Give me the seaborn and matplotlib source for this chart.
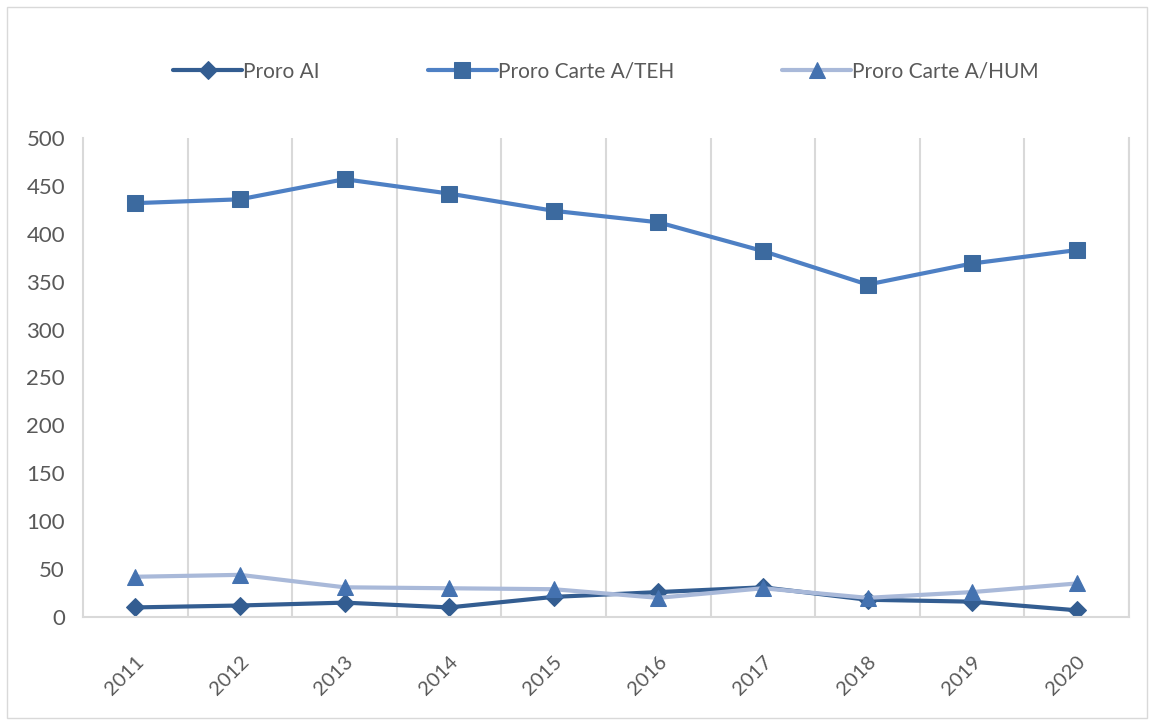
import numpy as np
import pandas as pd
import matplotlib
matplotlib.use("Agg")
import matplotlib.pyplot as plt
import seaborn as sns
from matplotlib.patches import Rectangle

years = ["2011", "2012", "2013", "2014", "2015", "2016", "2017", "2018", "2019", "2020"]
proro_ai = [10, 12, 15, 10, 21, 26, 31, 18, 16, 7]
proro_teh = [432, 436, 457, 442, 424, 412, 382, 347, 369, 383]
proro_hum = [42, 44, 31, 30, 29, 20, 30, 20, 26, 35]
series_names = ["Proro AI", "Proro Carte A/TEH", "Proro Carte A/HUM"]

sns.set_style("white")
plt.rcParams["font.family"] = ["Lato", "DejaVu Sans"]

df = pd.DataFrame({
    "pos": list(range(len(years))) * 3,
    "value": proro_ai + proro_teh + proro_hum,
    "series": [series_names[0]] * len(years) + [series_names[1]] * len(years) + [series_names[2]] * len(years),
})

fig = plt.figure(figsize=(11.54, 7.2), dpi=100)
ax = fig.add_axes([83 / 1154, 1 - 617 / 720, (1129 - 83) / 1154, (617 - 138) / 720])

styles = {
    "Proro AI": dict(line="#335D91", face="#335D91", marker="D", ms=9),
    "Proro Carte A/TEH": dict(line="#4E80C4", face="#3C6A9F", marker="s", ms=11),
    "Proro Carte A/HUM": dict(line="#A9B9D9", face="#4472B0", marker="^", ms=11),
}

for name in series_names:
    st = styles[name]
    sub = df[df["series"] == name]
    sns.lineplot(data=sub, x="pos", y="value", ax=ax, color=st["line"], linewidth=3,
                 marker=st["marker"], markersize=st["ms"], markerfacecolor=st["face"],
                 markeredgecolor=st["face"], label=name)

ax.set_xlim(-0.5, len(years) - 0.5)
ax.set_ylim(0, 500)
ax.set_yticks(np.arange(0, 501, 50))
ax.set_xticks(range(len(years)))
ax.set_xticklabels(years, rotation=45, ha="right", rotation_mode="anchor")
ax.set_xticks(np.arange(0.5, len(years), 1), minor=True)
ax.grid(False)
ax.grid(True, which="minor", axis="x", color="#D9D9D9", linewidth=1.5)
ax.tick_params(axis="both", which="both", length=0, labelcolor="#595959")
ax.tick_params(axis="y", labelsize=16, pad=13)
ax.tick_params(axis="x", labelsize=14.5, pad=26)
ax.set_xlabel("")
ax.set_ylabel("")
ax.spines["top"].set_visible(False)
for side in ["left", "bottom", "right"]:
    ax.spines[side].set_color("#D9D9D9")
    ax.spines[side].set_linewidth(1.5)

leg = ax.legend(loc="upper center", bbox_to_anchor=(0.5, 1 + 95 / 479), ncol=3, frameon=False,
                fontsize=15, handlelength=3.3, columnspacing=5.2, handletextpad=0.05)
for t in leg.get_texts():
    t.set_color("#595959")

fig.patches.append(Rectangle((7 / 1154, 2 / 720), 1140 / 1154, 711 / 720, transform=fig.transFigure,
                             fill=False, edgecolor="#D9D9D9", linewidth=1))

fig.savefig("out.png", dpi=100)
